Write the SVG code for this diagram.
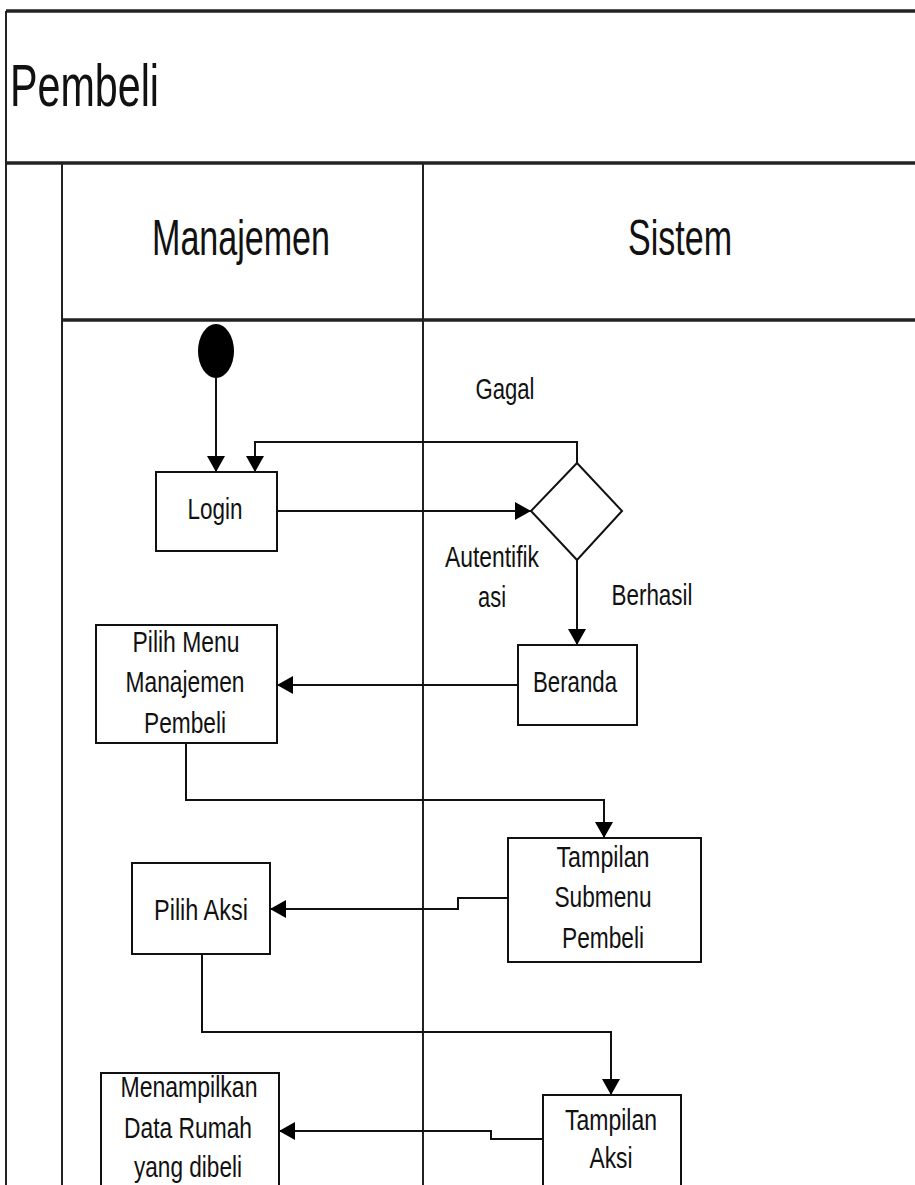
<svg xmlns="http://www.w3.org/2000/svg" width="915" height="1185" viewBox="0 0 915 1185">
<defs>
<marker id="arr" markerUnits="userSpaceOnUse" markerWidth="16" markerHeight="18" viewBox="0 0 16 18" refX="16" refY="9" orient="auto">
<path d="M0,0 L16,9 L0,18 z" fill="#000"/>
</marker>
</defs>
<style>
.frame{fill:none;stroke:#222;stroke-width:2}
.thick{fill:none;stroke:#222;stroke-width:3.5}
.node{fill:#fff;stroke:#111;stroke-width:2}
.conn{fill:none;stroke:#111;stroke-width:2}
.t{font-family:"Liberation Sans",Arial,sans-serif;fill:#111;text-anchor:middle}
.s{font-size:30px}
.h{font-size:50px}
</style>
<rect x="0" y="0" width="915" height="1185" fill="#fff"/>
<g id="pool">
<line class="thick" x1="6" y1="11" x2="915" y2="11" stroke="#555"/>
<line class="frame" x1="6" y1="11" x2="6" y2="1185"/>
<line class="thick" x1="6" y1="163" x2="915" y2="163"/>
<line class="frame" x1="62" y1="163" x2="62" y2="1185"/>
<line class="frame" x1="423" y1="163" x2="423" y2="1185"/>
<line class="thick" x1="62" y1="320" x2="915" y2="320"/>
<text class="t" x="10" y="106" style="font-size:60px;text-anchor:start" textLength="149" lengthAdjust="spacingAndGlyphs">Pembeli</text>
<text class="t h" x="241" y="255" textLength="178" lengthAdjust="spacingAndGlyphs">Manajemen</text>
<text class="t h" x="680" y="255" textLength="104" lengthAdjust="spacingAndGlyphs">Sistem</text>
</g>
<g id="connectors">
<line class="conn" x1="216" y1="378" x2="216" y2="472" marker-end="url(#arr)"/>
<polyline class="conn" points="577,463 577,442 255,442 255,472" marker-end="url(#arr)"/>
<line class="conn" x1="277" y1="511" x2="531" y2="511" marker-end="url(#arr)"/>
<line class="conn" x1="577" y1="560" x2="577" y2="645" marker-end="url(#arr)"/>
<line class="conn" x1="518" y1="685" x2="277" y2="685" marker-end="url(#arr)"/>
<polyline class="conn" points="186,743 186,800 604,800 604,838" marker-end="url(#arr)"/>
<polyline class="conn" points="508,898 458,898 458,909 270,909" marker-end="url(#arr)"/>
<polyline class="conn" points="202,954 202,1032 611,1032 611,1095" marker-end="url(#arr)"/>
<polyline class="conn" points="543,1139 491,1139 491,1131 279,1131" marker-end="url(#arr)"/>
<text class="t s" x="505" y="399" textLength="59" lengthAdjust="spacingAndGlyphs">Gagal</text>
<text class="t s" x="492" y="567" textLength="94" lengthAdjust="spacingAndGlyphs">Autentifik</text>
<text class="t s" x="492" y="607" textLength="28" lengthAdjust="spacingAndGlyphs">asi</text>
<text class="t s" x="652" y="605" textLength="81" lengthAdjust="spacingAndGlyphs">Berhasil</text>
</g>
<g id="start">
<ellipse cx="216" cy="351" rx="18" ry="27" fill="#000"/>
</g>
<g id="login">
<rect class="node" x="156" y="472" width="121" height="79"/>
<text class="t s" x="215" y="519" textLength="55" lengthAdjust="spacingAndGlyphs">Login</text>
</g>
<g id="autentifikasi">
<polygon class="node" points="577,463 622,511 577,560 531,511"/>
</g>
<g id="beranda">
<rect class="node" x="518" y="645" width="119" height="80"/>
<text class="t s" x="575" y="692" textLength="84" lengthAdjust="spacingAndGlyphs">Beranda</text>
</g>
<g id="pilih-menu">
<rect class="node" x="96" y="625" width="181" height="118"/>
<text class="t s" x="186" y="652" textLength="107" lengthAdjust="spacingAndGlyphs">Pilih Menu</text>
<text class="t s" x="185" y="692" textLength="119" lengthAdjust="spacingAndGlyphs">Manajemen</text>
<text class="t s" x="185" y="733" textLength="82" lengthAdjust="spacingAndGlyphs">Pembeli</text>
</g>
<g id="tampilan-submenu">
<rect class="node" x="508" y="838" width="193" height="124"/>
<text class="t s" x="603" y="867" textLength="93" lengthAdjust="spacingAndGlyphs">Tampilan</text>
<text class="t s" x="603" y="907" textLength="97" lengthAdjust="spacingAndGlyphs">Submenu</text>
<text class="t s" x="603" y="948" textLength="82" lengthAdjust="spacingAndGlyphs">Pembeli</text>
</g>
<g id="pilih-aksi">
<rect class="node" x="132" y="863" width="138" height="91"/>
<text class="t s" x="201" y="920" textLength="94" lengthAdjust="spacingAndGlyphs">Pilih Aksi</text>
</g>
<g id="tampilan-aksi">
<rect class="node" x="543" y="1095" width="138" height="100"/>
<text class="t s" x="611" y="1130" textLength="92" lengthAdjust="spacingAndGlyphs">Tampilan</text>
<text class="t s" x="611" y="1168" textLength="43" lengthAdjust="spacingAndGlyphs">Aksi</text>
</g>
<g id="menampilkan">
<rect class="node" x="101" y="1073" width="178" height="122"/>
<text class="t s" x="189" y="1097" textLength="137" lengthAdjust="spacingAndGlyphs">Menampilkan</text>
<text class="t s" x="188" y="1138" textLength="128" lengthAdjust="spacingAndGlyphs">Data Rumah</text>
<text class="t s" x="188" y="1177" textLength="108" lengthAdjust="spacingAndGlyphs">yang dibeli</text>
</g>
</svg>
